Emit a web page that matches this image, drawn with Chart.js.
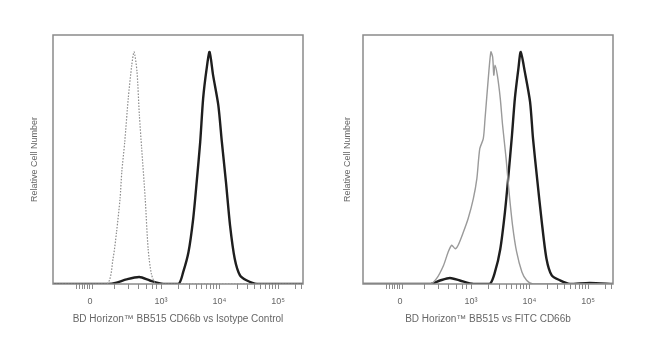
<!DOCTYPE html>
<html>
<head>
<meta charset="utf-8">
<script src="https://cdn.jsdelivr.net/npm/chart.js@4.4.1/dist/chart.umd.min.js"></script>
<style>
html,body{margin:0;padding:0;background:#fff;width:650px;height:359px;overflow:hidden;}
.wrap{position:absolute;top:0;height:359px;}
</style>
</head>
<body>
<div class="wrap" style="left:0;width:325px"><canvas id="c1" width="325" height="359"></canvas></div>
<div class="wrap" style="left:310px;width:340px"><canvas id="c2" width="340" height="359"></canvas></div>
<script>
// Axis positions are in display (biexponential-like) decade units: 10^3 -> 3, 10^4 -> 4, 10^5 -> 5
const tickValues = [1.786, 3, 4, 5];
const tickLabels = ['0', '10³', '10⁴', '10⁵'];
const minorTickValues = [1.55, 1.6, 1.65, 1.7, 1.74, 1.83, 2.2, 2.45, 2.62, 2.75, 2.85, 2.93,
  3.3, 3.48, 3.6, 3.7, 3.78, 3.85, 3.9, 3.95, 4.3, 4.48, 4.6, 4.7, 4.78, 4.85, 4.9, 4.95, 5.3, 5.4];

// Left panel: isotype control (dotted) and BB515 CD66b (dark)
const isoX = [1.154, 2.07, 2.18, 2.24, 2.30, 2.33, 2.38, 2.44, 2.50, 2.54, 2.59, 2.63, 2.67, 2.73, 2.78, 2.84, 2.93, 5.427];
const isoY = [0, 0, 10.9, 22.4, 36.8, 48.3, 61.2, 79.9, 94.3, 100, 91.4, 72.8, 58.3, 36.8, 15.2, 3.9, 0, 0];

const cd66bLeftX = [1.154, 2.10, 2.24, 2.41, 2.63, 2.81, 3.04, 3.30, 3.38, 3.47, 3.55, 3.61, 3.67, 3.72, 3.78, 3.83, 3.89, 3.98, 4.04, 4.11, 4.18, 4.26, 4.35, 4.46, 4.64, 5.427];
const cd66bLeftY = [0, 0, 0.6, 2, 3, 1.5, 0, 0, 5.2, 13.8, 28.1, 44, 61.2, 79.9, 92.8, 100, 90, 77, 61.2, 44, 25.3, 10.9, 3.7, 1.6, 0, 0];

// Right panel: FITC CD66b (light grey) and BB515 CD66b (dark)
const fitcX = [1.154, 2.30, 2.41, 2.53, 2.61, 2.67, 2.73, 2.78, 2.87, 2.95, 3.04, 3.10, 3.15, 3.21, 3.24, 3.30, 3.34, 3.37, 3.39, 3.41, 3.45, 3.50, 3.54, 3.60, 3.65, 3.71, 3.78, 3.87, 3.95, 4.06, 5.427];
const fitcY = [0, 0, 2.3, 8, 13.8, 16.7, 15.2, 16.7, 22.4, 28.1, 36.8, 45.4, 58.3, 62.6, 71.3, 90, 100, 97.8, 90, 94.3, 90, 80, 68.4, 54, 39.7, 25.3, 13.8, 5.2, 1.6, 0, 0];

const cd66bRightX = [1.154, 2.30, 2.47, 2.64, 2.81, 3.04, 3.32, 3.41, 3.50, 3.58, 3.64, 3.70, 3.75, 3.81, 3.85, 3.92, 4.01, 4.06, 4.13, 4.21, 4.29, 4.38, 4.52, 4.69, 5.03, 5.427];
const cd66bRightY = [0, 0, 1.5, 2.6, 1.5, 0, 0, 5.2, 15, 31, 46.8, 64, 80, 92.8, 100, 91.4, 78.4, 62.6, 45.4, 26.7, 10.9, 3.7, 1.6, 0, 0.5, 0];

const xTitleLeft = 'BD Horizon™ BB515 CD66b vs Isotype Control';
const xTitleRight = 'BD Horizon™ BB515 vs FITC CD66b';
const yTitle = 'Relative Cell Number';

const pts = (xs, ys) => xs.map((x, i) => ({x: x, y: ys[i]}));

const framePlugin = {
  id: 'frame',
  afterDraw(chart) {
    const a = chart.chartArea, ctx = chart.ctx;
    ctx.save();
    ctx.strokeStyle = '#8a8a8a';
    ctx.lineWidth = 1.5;
    ctx.strokeRect(a.left, a.top, a.right - a.left, a.bottom - a.top);
    ctx.restore();
  }
};

function makeChart(id, datasets, xTitle, rightPad, yTitlePad) {
  return new Chart(document.getElementById(id), {
    type: 'line',
    data: { datasets: datasets },
    plugins: [framePlugin],
    options: {
      responsive: false,
      animation: false,
      parsing: true,
      layout: { padding: { top: 35, right: rightPad, left: 0, bottom: 0 } },
      plugins: { legend: { display: false }, tooltip: { enabled: false } },
      elements: { point: { radius: 0 }, line: { tension: 0.25 } },
      scales: {
        x: {
          type: 'linear', min: 1.154, max: 5.427,
          afterBuildTicks(scale) {
            scale.ticks = tickValues.map(v => ({value: v, major: true}))
              .concat(minorTickValues.map(v => ({value: v, major: false})));
          },
          afterFit(scale) { scale.height = 75; },
          ticks: {
            autoSkip: false, maxRotation: 0, padding: 7,
            color: '#666', font: { family: 'Liberation Sans', size: 9 },
            callback(v) { const i = tickValues.indexOf(v); return i >= 0 ? tickLabels[i] : ''; }
          },
          grid: { drawOnChartArea: false, tickLength: 5, color: '#8a8a8a', lineWidth: 1 },
          border: { display: false },
          title: { display: true, text: xTitle, color: '#666',
                   font: { family: 'Liberation Sans', size: 10 }, padding: { top: 0, bottom: 34 } }
        },
        y: {
          min: 0, max: 107.3,
          ticks: { display: false },
          grid: { display: false },
          border: { display: false },
          afterFit(scale) { scale.width = 53; },
          title: { display: true, text: yTitle, color: '#666',
                   font: { family: 'Liberation Sans', size: 9 }, padding: { top: yTitlePad, bottom: 0 } }
        }
      }
    }
  });
}

makeChart('c1', [
  { data: pts(isoX, isoY), borderColor: '#8c8c8c', borderWidth: 1.2, borderDash: [1.5, 1.5], fill: false },
  { data: pts(cd66bLeftX, cd66bLeftY), borderColor: '#1e1e1e', borderWidth: 2.4, fill: false }
], xTitleLeft, 22, 29);

makeChart('c2', [
  { data: pts(fitcX, fitcY), borderColor: '#9a9a9a', borderWidth: 1.4, fill: false },
  { data: pts(cd66bRightX, cd66bRightY), borderColor: '#1e1e1e', borderWidth: 2.4, fill: false }
], xTitleRight, 37, 32);
</script>
</body>
</html>
